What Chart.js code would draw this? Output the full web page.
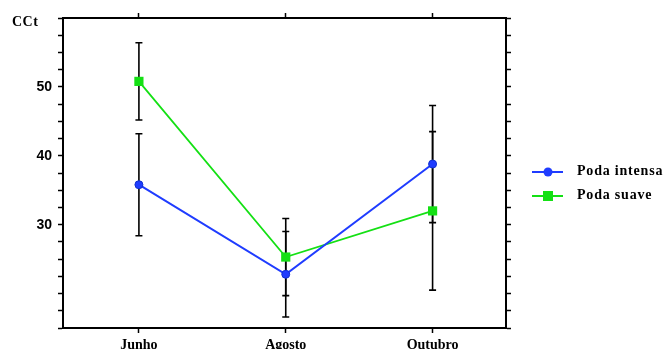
<!DOCTYPE html>
<html>
<head>
<meta charset="utf-8">
<script src="https://cdn.jsdelivr.net/npm/chart.js@4/dist/chart.umd.min.js"></script>
<style>
  html, body { margin: 0; padding: 0; background: #fff; }
  #wrap { width: 663px; height: 349px; }
</style>
</head>
<body>
<div id="wrap"><canvas id="cctChart" width="663" height="349"></canvas></div>
<script>
// months on the x axis
const months = ['Junho', 'Agosto', 'Outubro'];

// CCt means and error half-widths per pruning treatment
const podaIntensa = [35.8, 22.8, 38.8];
const podaIntensaErr = [7.4, 6.2, 8.5];
const podaSuave = [50.8, 25.3, 32.0];
const podaSuaveErr = [5.6, 5.6, 11.5];

// y axis
const yMin = 15;
const yMax = 60;
const yLabelled = [30, 40, 50];

const blue = '#1f3cff';
const green = '#14e014';
const serif = '"Liberation Serif", "DejaVu Serif", serif';
const sans = '"Liberation Sans", Arial, sans-serif';

const toPoints = (vals) => vals.map((v, i) => ({ x: i, y: v }));

// vertical error bars with small caps, drawn under the lines
const errorBars = {
  id: 'errorBars',
  beforeDatasetsDraw(chart) {
    const { ctx, scales: { x, y } } = chart;
    ctx.save();
    ctx.strokeStyle = '#000';
    ctx.lineWidth = 1.6;
    chart.data.datasets.forEach((ds) => {
      ds.data.forEach((p, i) => {
        const e = ds.errors[i];
        const px = x.getPixelForValue(p.x);
        const top = y.getPixelForValue(p.y + e);
        const bot = y.getPixelForValue(p.y - e);
        ctx.beginPath();
        ctx.moveTo(px, top); ctx.lineTo(px, bot);
        ctx.moveTo(px - 3.5, top); ctx.lineTo(px + 3.5, top);
        ctx.moveTo(px - 3.5, bot); ctx.lineTo(px + 3.5, bot);
        ctx.stroke();
      });
    });
    ctx.restore();
  }
};

// axis title in the corner and the legend to the right of the frame
const extras = {
  id: 'extras',
  afterDraw(chart) {
    const { ctx, chartArea } = chart;
    ctx.save();
    ctx.fillStyle = '#000';
    ctx.font = 'bold 14px ' + serif;
    ctx.textBaseline = 'middle';
    ctx.textAlign = 'left';
    ctx.letterSpacing = '0.5px';
    ctx.fillText('CCt', 12, 22);
    ctx.letterSpacing = '0px';

    const lx = chartArea.right + 26;
    chart.data.datasets.forEach((ds, i) => {
      const ly = 172 + i * 24;
      ctx.strokeStyle = ds.borderColor;
      ctx.lineWidth = 2;
      ctx.beginPath();
      ctx.moveTo(lx, ly); ctx.lineTo(lx + 31, ly);
      ctx.stroke();
      ctx.fillStyle = ds.backgroundColor;
      if (ds.pointStyle === 'rect') {
        ctx.fillRect(lx + 11, ly - 5, 10, 10);
      } else {
        ctx.beginPath();
        ctx.arc(lx + 16, ly, 4.5, 0, Math.PI * 2);
        ctx.fill();
      }
      ctx.fillStyle = '#000';
      ctx.font = 'bold 14px ' + serif;
      ctx.letterSpacing = '0.8px';
      ctx.fillText(ds.label, lx + 45, ly - 1);
      ctx.letterSpacing = '0px';
    });
    ctx.restore();
  }
};

const keepCategories = (scale) => {
  scale.ticks = scale.ticks.filter(t => Number.isInteger(t.value) && t.value >= 0 && t.value < months.length);
};

const xAxis = (position, height, showLabels) => ({
  type: 'linear',
  position,
  min: -0.517,
  max: 2.5,
  afterBuildTicks: keepCategories,
  afterFit(scale) { scale.height = height; },
  border: { display: true, color: '#000', width: 2 },
  grid: { drawOnChartArea: false, drawTicks: true, tickLength: 5, tickColor: '#000', tickWidth: 1.5 },
  ticks: {
    display: showLabels,
    stepSize: 1,
    autoSkip: false,
    maxRotation: 0,
    padding: 4,
    color: '#000',
    font: { family: serif, size: 14, weight: 'bold' },
    callback: (v) => months[v] ?? ''
  }
});

const yAxis = (position, width, showLabels) => ({
  type: 'linear',
  position,
  min: yMin,
  max: yMax,
  afterFit(scale) { scale.width = width; },
  border: { display: true, color: '#000', width: 2 },
  grid: { drawOnChartArea: false, drawTicks: true, tickLength: 5, tickColor: '#000', tickWidth: 1.5 },
  ticks: {
    display: showLabels,
    stepSize: 2.5,
    autoSkip: false,
    padding: 6,
    color: '#000',
    font: { family: sans, size: 14, weight: 'bold' },
    callback: (v) => yLabelled.includes(v) ? String(v) : ''
  }
});

new Chart(document.getElementById('cctChart'), {
  type: 'line',
  data: {
    datasets: [
      {
        label: 'Poda intensa',
        data: toPoints(podaIntensa),
        errors: podaIntensaErr,
        borderColor: blue,
        backgroundColor: blue,
        borderWidth: 2,
        pointStyle: 'circle',
        pointRadius: 4,
        pointBorderColor: '#1030d0',
        pointBorderWidth: 1,
        tension: 0
      },
      {
        label: 'Poda suave',
        data: toPoints(podaSuave),
        errors: podaSuaveErr,
        borderColor: green,
        backgroundColor: green,
        borderWidth: 1.8,
        pointStyle: 'rect',
        pointRadius: 6.5,
        pointBorderWidth: 0,
        tension: 0
      }
    ]
  },
  options: {
    responsive: false,
    animation: false,
    layout: { padding: 0 },
    plugins: {
      legend: { display: false },
      tooltip: { enabled: false }
    },
    scales: {
      x: xAxis('bottom', 21, true),
      x2: xAxis('top', 18, false),
      y: yAxis('left', 63, true),
      y2: yAxis('right', 157, false)
    }
  },
  plugins: [errorBars, extras]
});
</script>
</body>
</html>
